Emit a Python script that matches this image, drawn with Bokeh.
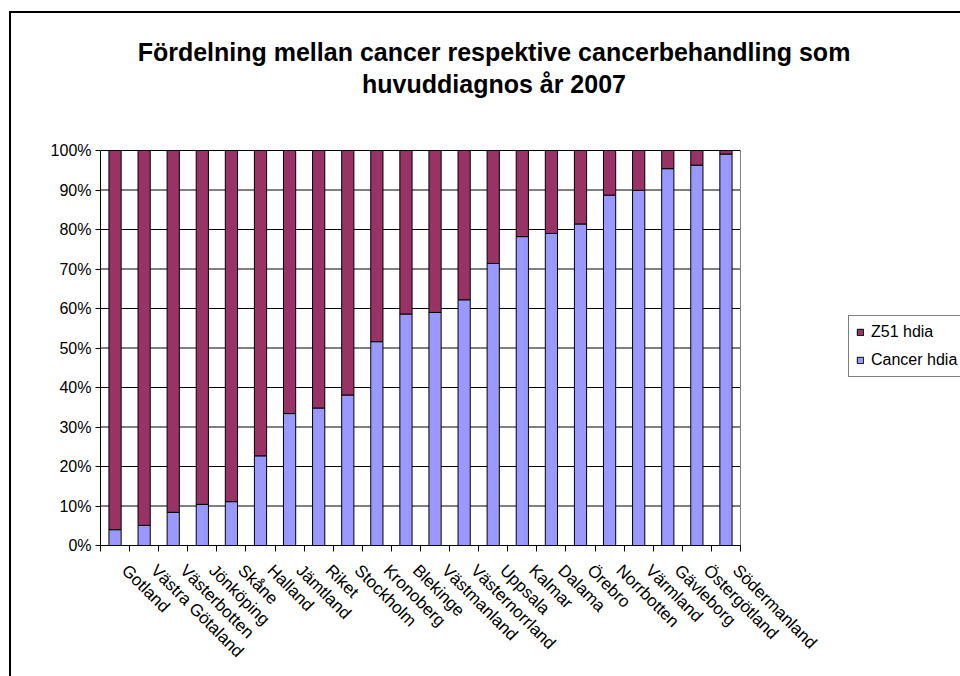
import math
from bokeh.plotting import figure
from bokeh.models import (Range1d, FixedTicker, NumeralTickFormatter,
                          Legend, LegendItem, Label)
from bokeh.embed import file_html
from bokeh.resources import INLINE

# ---- data ----
regions = ["Gotland", "Västra Götaland", "Västerbotten", "Jönköping", "Skåne",
           "Halland", "Jämtland", "Riket", "Stockholm", "Kronoberg", "Blekinge",
           "Västmanland", "Västernorrland", "Uppsala", "Kalmar", "Dalama",
           "Örebro", "Norrbotten", "Värmland", "Gävleborg", "Östergötland",
           "Södermanland"]
cancer_hdia = [0.040, 0.051, 0.084, 0.104, 0.111, 0.227, 0.334, 0.348, 0.381,
               0.516, 0.586, 0.590, 0.622, 0.714, 0.782, 0.790, 0.814, 0.887,
               0.899, 0.954, 0.963, 0.991]
z51_hdia = [1.0 - c for c in cancer_hdia]
series_names = ["Z51 hdia", "Cancer hdia"]
title_lines = ["Fördelning mellan cancer respektive cancerbehandling som",
               "huvuddiagnos år 2007"]
y_ticks = [i / 10 for i in range(11)]

FONT = "Liberation Sans"
n = len(regions)
xs = [i + 0.5 for i in range(n)]
boundaries = list(range(n + 1))

# chart area placed at page (11, 13); like the reference it runs past the
# right and bottom edges of the window. The frame fills all but the
# left/bottom axis panels; the visible plot area is 640x395.
CANVAS_W, CANVAS_H = 965, 670
LEFT, BOTTOM = 89, 138
FRAME_W, FRAME_H = CANVAS_W - LEFT, CANVAS_H - BOTTOM
PLOT_W, PLOT_H = 640, 395
x_end = n * FRAME_W / PLOT_W
y_end = 1.0 * FRAME_H / PLOT_H

p = figure(width=CANVAS_W, height=CANVAS_H, output_backend="svg",
           toolbar_location=None,
           x_range=Range1d(0, x_end), y_range=Range1d(0, y_end),
           min_border_left=LEFT, min_border_right=0, min_border_top=0,
           min_border_bottom=BOTTOM, background_fill_color="white",
           border_fill_color="white")
p.styles = {"margin-left": "11px", "margin-top": "13px",
            "box-shadow": "-2px -2px 0px 0px black"}
p.outline_line_color = None
p.xgrid.visible = False
p.ygrid.visible = False

# gridlines and right edge of the plot area
p.segment(x0=0, x1=n, y0=y_ticks, y1=y_ticks, line_color="black", line_width=1)
p.segment(x0=n, x1=n, y0=0, y1=1, line_color="#808080", line_width=1)

z_tops = [c + z for c, z in zip(cancer_hdia, z51_hdia)]
r_c = p.vbar(x=xs, bottom=0, top=cancer_hdia, width=0.42,
             fill_color="#9999FF", line_color="black", line_width=1)
r_z = p.vbar(x=xs, bottom=cancer_hdia, top=z_tops, width=0.42,
             fill_color="#993366", line_color="black", line_width=1)

# y axis
ya = p.yaxis[0]
ya.bounds = (0, 1)
ya.ticker = FixedTicker(ticks=y_ticks)
ya.formatter = NumeralTickFormatter(format="0%")
ya.major_label_text_font = FONT
ya.major_label_text_font_size = "16px"
ya.major_label_text_color = "black"
ya.major_tick_in = 0
ya.major_tick_out = 5
ya.minor_tick_line_color = None
ya.axis_line_color = "black"
ya.major_label_standoff = 4

# x axis: ticks on category boundaries, rotated labels
label_pos = [x + 0.33 for x in xs]
xa = p.xaxis[0]
xa.bounds = (0, n)
xa.ticker = FixedTicker(ticks=label_pos, minor_ticks=boundaries)
xa.major_label_overrides = {x: r for x, r in zip(label_pos, regions)}
xa.major_label_orientation = -math.pi / 4
xa.major_label_text_font = FONT
xa.major_label_text_font_size = "17px"
xa.major_label_text_color = "black"
xa.major_label_standoff = 16
xa.major_tick_line_color = None
xa.minor_tick_in = 0
xa.minor_tick_out = 6
xa.minor_tick_line_color = "black"
xa.axis_line_color = "black"

# title (screen units measured from the plot area's bottom-left corner)
for i, t in enumerate(title_lines):
    p.add_layout(Label(x=393.5, y=PLOT_H + 99 - 32 * i,
                       x_units="screen", y_units="screen",
                       text=t, text_align="center", text_baseline="middle",
                       text_font=FONT, text_font_size="25px",
                       text_font_style="bold", text_color="black"))

legend = Legend(items=[LegendItem(label=series_names[0], renderers=[r_z]),
                       LegendItem(label=series_names[1], renderers=[r_c])],
                location=(748, 168), orientation="vertical",
                glyph_width=8, glyph_height=8, label_standoff=7,
                label_text_font=FONT, label_text_font_size="16px",
                label_text_color="black", spacing=10, padding=7, margin=0,
                border_line_color="black", border_line_width=1,
                background_fill_color="white", background_fill_alpha=1)
p.add_layout(legend)

open("out.html", "w").write(file_html(p, INLINE))
